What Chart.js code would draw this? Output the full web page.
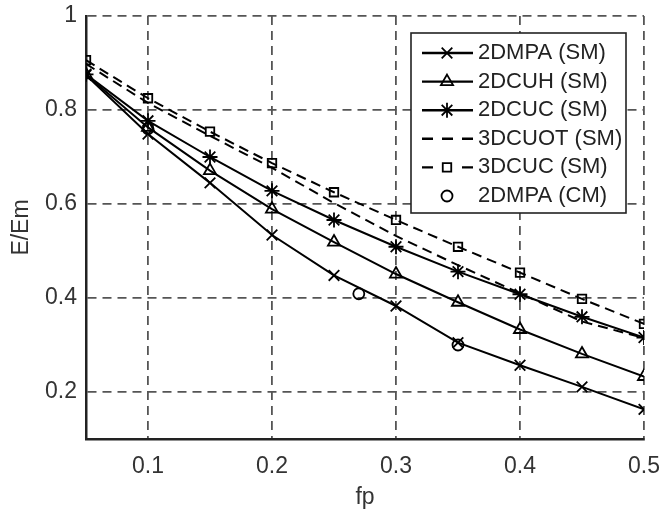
<!DOCTYPE html>
<html>
<head>
<meta charset="utf-8">
<script src="https://cdn.jsdelivr.net/npm/chart.js@4.4.1/dist/chart.umd.min.js"></script>
<style>
  html, body { margin: 0; padding: 0; background: #fff; }
  #wrap { width: 662px; height: 515px; }
</style>
</head>
<body>
<div id="wrap"><canvas id="chart" width="662" height="515"></canvas></div>
<script>
// values
const fp = [0.05, 0.1, 0.15, 0.2, 0.25, 0.3, 0.35, 0.4, 0.45, 0.5];
const mpaSM   = [0.874, 0.749, 0.645, 0.534, 0.448, 0.383, 0.305, 0.257, 0.211, 0.163];
const cuhSM   = [0.875, 0.763, 0.671, 0.589, 0.519, 0.451, 0.391, 0.333, 0.281, 0.233];
const cucSM   = [0.876, 0.777, 0.700, 0.628, 0.566, 0.509, 0.456, 0.408, 0.360, 0.316];
const cuotSM  = [0.898, 0.815, 0.745, 0.677, 0.602, 0.532, 0.470, 0.410, 0.350, 0.315];
const cuc3SM  = [0.906, 0.825, 0.754, 0.687, 0.625, 0.566, 0.509, 0.454, 0.398, 0.345];
const mpaCMx  = [0.1, 0.27, 0.35];
const mpaCM   = [0.760, 0.409, 0.300];

const labels = ['2DMPA (SM)', '2DCUH (SM)', '2DCUC (SM)', '3DCUOT (SM)', '3DCUC (SM)', '2DMPA (CM)'];
const xTicks = [0.1, 0.2, 0.3, 0.4, 0.5];
const xTickLabels = ['0.1', '0.2', '0.3', '0.4', '0.5'];
const yTicks = [0.2, 0.4, 0.6, 0.8, 1];
const yTickLabels = ['0.2', '0.4', '0.6', '0.8', '1'];

const FONT = '"Liberation Sans", Arial, Helvetica, sans-serif';
const none = 'rgba(0,0,0,0)';

function pts(xs, ys) {
  return xs.map((x, i) => ({ x: x, y: ys[i] }));
}

function series(label, data, style, radius, dash, showLine) {
  return {
    label: label,
    data: data,
    borderColor: '#000',
    borderWidth: 2,
    borderDash: dash || [],
    backgroundColor: none,
    pointStyle: style || false,
    pointRadius: radius,
    pointBorderColor: '#000',
    pointBackgroundColor: none,
    pointBorderWidth: 1.8,
    showLine: showLine !== false,
    tension: 0,
    fill: false
  };
}

// boxed legend drawn inside the axes, line sample + marker like the original
const boxLegend = {
  id: 'boxLegend',
  afterDraw(chart) {
    const ctx = chart.ctx;
    const bx = 411, by = 33, bw = 215, bh = 180;
    ctx.save();
    ctx.fillStyle = '#fff';
    ctx.fillRect(bx, by, bw, bh);
    ctx.lineWidth = 1.6;
    ctx.strokeStyle = '#222';
    ctx.setLineDash([]);
    ctx.strokeRect(bx, by, bw, bh);
    chart.data.datasets.forEach((ds, i) => {
      const y = by + 20 + i * 28.6;
      if (ds.showLine) {
        ctx.beginPath();
        ctx.setLineDash(ds.borderDash.length ? [11, 9] : []);
        ctx.lineDashOffset = 0;
        ctx.lineWidth = ds.borderWidth + 0.4;
        ctx.strokeStyle = '#000';
        ctx.moveTo(422, y);
        ctx.lineTo(473, y);
        ctx.stroke();
      }
      if (ds.pointStyle) {
        ctx.setLineDash([]);
        if (ds.borderDash.length) {
          ctx.fillStyle = '#fff';
          ctx.fillRect(440, y - 5, 14, 10);
        }
        ctx.fillStyle = none;
        ctx.strokeStyle = '#000';
        ctx.lineWidth = ds.pointBorderWidth;
        Chart.helpers.drawPoint(ctx, {
          pointStyle: ds.pointStyle, radius: ds.pointRadius, rotation: 0,
          borderWidth: ds.pointBorderWidth
        }, 447, y);
      }
      ctx.setLineDash([]);
      ctx.fillStyle = '#222';
      ctx.font = '22px ' + FONT;
      ctx.textBaseline = 'middle';
      ctx.textAlign = 'left';
      ctx.fillText(ds.label, 478, y);
    });
    ctx.restore();
  }
};

const gridColor = '#555';

new Chart(document.getElementById('chart'), {
  type: 'line',
  data: {
    datasets: [
      series(labels[0], pts(fp, mpaSM), 'crossRot', 7.5),
      series(labels[1], pts(fp, cuhSM), 'triangle', 7),
      series(labels[2], pts(fp, cucSM), 'star', 7.5),
      series(labels[3], pts(fp, cuotSM), false, 0, [10, 6]),
      series(labels[4], pts(fp, cuc3SM), 'rect', 6, [10, 6]),
      series(labels[5], pts(mpaCMx, mpaCM), 'circle', 5.5, [], false)
    ]
  },
  options: {
    responsive: false,
    animation: false,
    devicePixelRatio: 1,
    layout: { padding: { left: 0, right: 18, top: 16, bottom: 0 } },
    plugins: {
      legend: { display: false },
      tooltip: { enabled: false }
    },
    scales: {
      x: {
        type: 'linear',
        min: 0.05,
        max: 0.5,
        afterBuildTicks: s => { s.ticks = xTicks.map(v => ({ value: v })); },
        afterFit: s => { s.height = 76; s.paddingLeft = 0; s.paddingRight = 0; },
        grid: { color: gridColor, lineWidth: 1.8, drawTicks: false },
        border: { display: true, color: '#222', width: 2.5, dash: [9, 6] },
        ticks: {
          color: '#333',
          font: { family: FONT, size: 23 },
          padding: 14,
          maxRotation: 0,
          autoSkip: false,
          callback: (v, i) => xTickLabels[i]
        },
        title: {
          display: true, text: 'fp', color: '#333',
          font: { family: FONT, size: 23 },
          padding: { top: 0, bottom: 4 }
        }
      },
      y: {
        type: 'linear',
        min: 0.1,
        max: 1,
        afterBuildTicks: s => { s.ticks = yTicks.map(v => ({ value: v })); },
        afterFit: s => { s.width = 86; s.paddingTop = 0; s.paddingBottom = 0; },
        grid: { color: gridColor, lineWidth: 1.8, drawTicks: false },
        border: { display: true, color: '#222', width: 2.5, dash: [9, 6] },
        ticks: {
          color: '#333',
          font: { family: FONT, size: 23 },
          padding: 9,
          autoSkip: false,
          callback: (v, i) => yTickLabels[i]
        },
        title: {
          display: true, text: 'E/Em', color: '#333',
          font: { family: FONT, size: 23 },
          padding: { top: 8, bottom: 0 }
        }
      }
    }
  },
  plugins: [boxLegend]
});
</script>
</body>
</html>
